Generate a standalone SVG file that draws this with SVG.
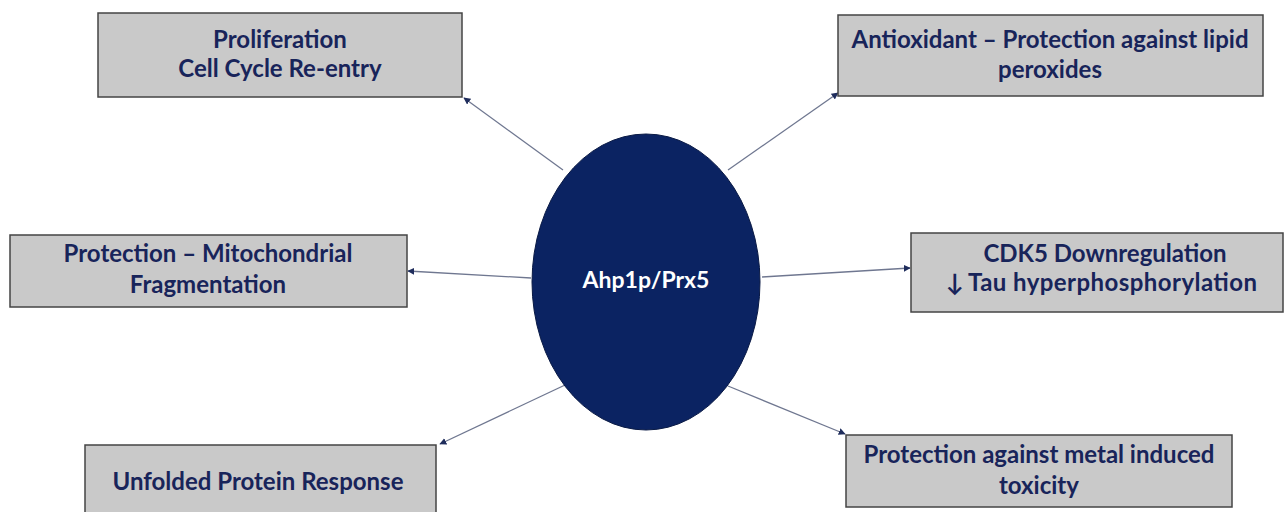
<svg xmlns="http://www.w3.org/2000/svg" width="1287" height="512" viewBox="0 0 1287 512">
  <defs>
    <marker id="arrow" viewBox="0 0 10 10" refX="9" refY="5" markerWidth="7" markerHeight="7" orient="auto" markerUnits="userSpaceOnUse">
      <path d="M0,0 L10,5 L0,10 z" fill="#1f2d5c"/>
    </marker>
    <style>
      .box { fill: #c9c9c9; stroke: #444444; stroke-width: 1.5; }
      .lbl { font-family: Lato, "Open Sans", "Liberation Sans", sans-serif; font-weight: bold; font-size: 24px; fill: #18245a; text-anchor: middle; }
      .hub { fill: #0b2362; stroke: #0a1a45; stroke-width: 1; }
      .hubtxt { font-family: Lato, "Open Sans", "Liberation Sans", sans-serif; font-weight: bold; font-size: 23px; fill: #ffffff; text-anchor: middle; }
      .edge { stroke: #6f7790; stroke-width: 1.3; fill: none; marker-end: url(#arrow); }
    </style>
  </defs>
  <rect width="1287" height="512" fill="#ffffff"/>

  <!-- connectors from the central protein to each effect -->
  <g id="connectors">
    <line class="edge" x1="563" y1="170" x2="464" y2="98"/>
    <line class="edge" x1="728" y1="170" x2="838" y2="93"/>
    <line class="edge" x1="531" y1="278" x2="408" y2="271"/>
    <line class="edge" x1="762" y1="277" x2="910" y2="268"/>
    <line class="edge" x1="565" y1="385" x2="440" y2="444"/>
    <line class="edge" x1="728" y1="386" x2="845" y2="434"/>
  </g>

  <g id="hub">
    <ellipse class="hub" cx="646" cy="282" rx="114" ry="148"/>
    <text class="hubtxt" x="646" y="288">Ahp1p/Prx5</text>
  </g>

  <g id="proliferation">
    <rect class="box" x="98" y="13" width="364" height="84"/>
    <text class="lbl" x="280" y="48">Proliferation</text>
    <text class="lbl" x="280" y="77">Cell Cycle Re-entry</text>
  </g>

  <g id="antioxidant">
    <rect class="box" x="838" y="15" width="425" height="81"/>
    <text class="lbl" x="1050" y="48">Antioxidant – Protection against lipid</text>
    <text class="lbl" x="1050" y="78">peroxides</text>
  </g>

  <g id="mitochondrial">
    <rect class="box" x="10" y="235" width="397" height="72"/>
    <text class="lbl" x="208" y="262">Protection – Mitochondrial</text>
    <text class="lbl" x="208" y="293">Fragmentation</text>
  </g>

  <g id="cdk5">
    <rect class="box" x="911" y="233" width="372" height="79"/>
    <text class="lbl" x="1105" y="262">CDK5 Downregulation</text>
    <text class="lbl" x="955" y="291">↓</text>
    <text class="lbl" x="968" y="291" style="text-anchor:start" textLength="289">Tau hyperphosphorylation</text>
  </g>

  <g id="upr">
    <rect class="box" x="85" y="445" width="351" height="72"/>
    <text class="lbl" x="258" y="490">Unfolded Protein Response</text>
  </g>

  <g id="metal">
    <rect class="box" x="846" y="435" width="386" height="72"/>
    <text class="lbl" x="1039" y="463">Protection against metal induced</text>
    <text class="lbl" x="1039" y="494">toxicity</text>
  </g>
</svg>
